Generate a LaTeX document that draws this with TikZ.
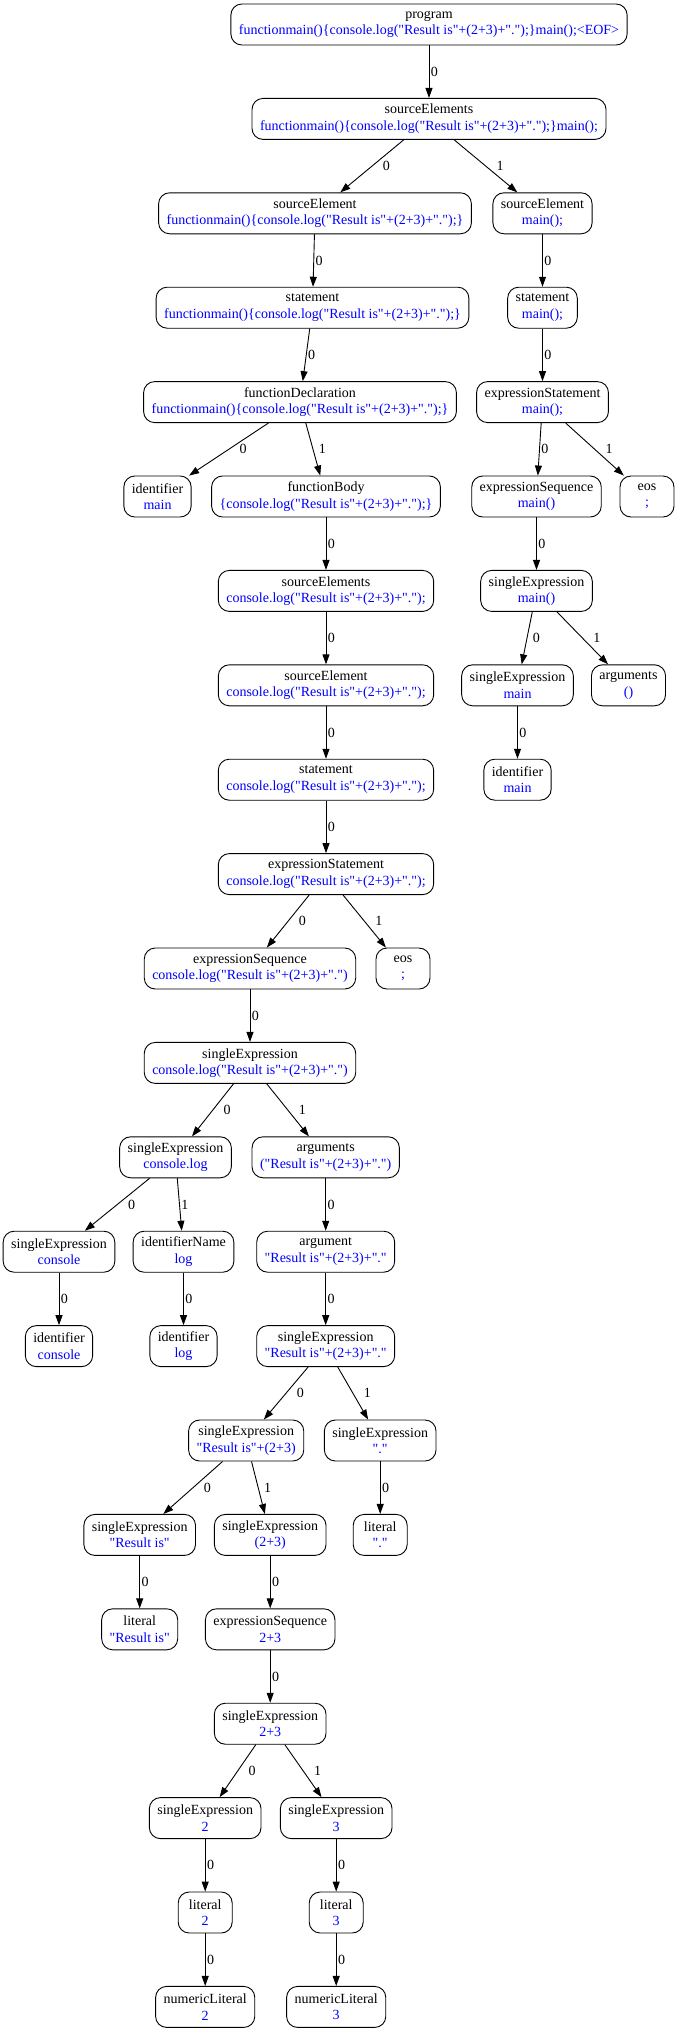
\documentclass[tikz,border=0pt]{standalone}
\usepackage{fontspec}
\setmainfont{Liberation Serif}[Ligatures=TeXOff]
\usepackage{xcolor}
\usetikzlibrary{arrows.meta}
\newcommand{\srctext}[1]{\textcolor{blue}{#1}}

\begin{document}
\begin{tikzpicture}[->,>={Triangle[length=10pt,width=7pt]},x=1pt,y=1pt,node distance=94.4pt,line width=0.9pt]
            \tikzset{tnode/.style={draw, rounded corners=11pt, align=center, minimum width=54pt, minimum height=41pt, inner xsep=8pt, inner ysep=2pt, font=\fontsize{14}{16.5}\selectfont},
                     lbl/.style={anchor=west, inner sep=1.5pt, font=\fontsize{14}{16}\selectfont},
                     lblmid/.style={lbl, xshift=4pt},
                     lblfar/.style={lbl, xshift=9pt}}
            \useasboundingbox (0,0) rectangle (677,-2032);
            % main spine
            \node[tnode] (prog) at (429,-24.5) {program\\\srctext{functionmain()\{console.log("Result is"+(2+3)+".");\}main();<EOF>}};
            \node[tnode] (se) [below of=prog] {sourceElements\\\srctext{functionmain()\{console.log("Result is"+(2+3)+".");\}main();}};
            \node[tnode] (sel) [below of=se, xshift=-114pt] {sourceElement\\\srctext{functionmain()\{console.log("Result is"+(2+3)+".");\}}};
            \node[tnode] (stl) [below of=sel, xshift=-2.5pt] {statement\\\srctext{functionmain()\{console.log("Result is"+(2+3)+".");\}}};
            \node[tnode] (fd) [below of=stl, xshift=-12.5pt] {functionDeclaration\\\srctext{functionmain()\{console.log("Result is"+(2+3)+".");\}}};
            \node[tnode] (idm) [below of=fd, xshift=-142.5pt] {identifier\\\srctext{main}};
            \node[tnode] (fb) [below of=fd, xshift=26pt] {functionBody\\\srctext{\{console.log("Result is"+(2+3)+".");\}}};
            \node[tnode] (ses2) [below of=fb] {sourceElements\\\srctext{console.log("Result is"+(2+3)+".");}};
            \node[tnode] (sel2) [below of=ses2] {sourceElement\\\srctext{console.log("Result is"+(2+3)+".");}};
            \node[tnode] (st2) [below of=sel2] {statement\\\srctext{console.log("Result is"+(2+3)+".");}};
            \node[tnode] (es2) [below of=st2] {expressionStatement\\\srctext{console.log("Result is"+(2+3)+".");}};
            \node[tnode] (esq2) [below of=es2, xshift=-76pt] {expressionSequence\\\srctext{console.log("Result is"+(2+3)+".")}};
            \node[tnode] (eos2) [below of=es2, xshift=77pt] {eos\\\srctext{;}};
            \node[tnode] (sx1) [below of=esq2] {singleExpression\\\srctext{console.log("Result is"+(2+3)+".")}};
            \node[tnode] (sxcl) [below of=sx1, xshift=-74.5pt] {singleExpression\\\srctext{console.log}};
            \node[tnode] (args2) [below of=sx1, xshift=75.7pt] {arguments\\\srctext{("Result is"+(2+3)+".")}};
            \node[tnode] (sxcon) [below of=sxcl, xshift=-116.5pt] {singleExpression\\\srctext{console}};
            \node[tnode] (idn) [below of=sxcl, xshift=8pt] {identifierName\\\srctext{log}};
            \node[tnode] (idcon) [below of=sxcon] {identifier\\\srctext{console}};
            \node[tnode] (idlog) [below of=idn] {identifier\\\srctext{log}};
            \node[tnode] (arg) [below of=args2] {argument\\\srctext{"Result is"+(2+3)+"."}};
            \node[tnode] (sx2) [below of=arg] {singleExpression\\\srctext{"Result is"+(2+3)+"."}};
            \node[tnode] (sx3) [below of=sx2, xshift=-79.5pt] {singleExpression\\\srctext{"Result is"+(2+3)}};
            \node[tnode] (sxdot) [below of=sx2, xshift=54.5pt] {singleExpression\\\srctext{"."}};
            \node[tnode] (litdot) [below of=sxdot] {literal\\\srctext{"."}};
            \node[tnode] (sxres) [below of=sx3, xshift=-106.5pt] {singleExpression\\\srctext{"Result is"}};
            \node[tnode] (sxpar) [below of=sx3, xshift=24pt] {singleExpression\\\srctext{(2+3)}};
            \node[tnode] (litres) [below of=sxres] {literal\\\srctext{"Result is"}};
            \node[tnode] (esq3) [below of=sxpar] {expressionSequence\\\srctext{2+3}};
            \node[tnode] (sx23) [below of=esq3] {singleExpression\\\srctext{2+3}};
            \node[tnode] (sx2n) [below of=sx23, xshift=-65pt] {singleExpression\\\srctext{2}};
            \node[tnode] (sx3n) [below of=sx23, xshift=66pt] {singleExpression\\\srctext{3}};
            \node[tnode] (lit2) [below of=sx2n] {literal\\\srctext{2}};
            \node[tnode] (lit3) [below of=sx3n] {literal\\\srctext{3}};
            \node[tnode] (num2) [below of=lit2] {numericLiteral\\\srctext{2}};
            \node[tnode] (num3) [below of=lit3] {numericLiteral\\\srctext{3}};
            % right branch: main();
            \node[tnode] (ser) [below of=se, xshift=113.5pt] {sourceElement\\\srctext{main();}};
            \node[tnode] (str) [below of=ser] {statement\\\srctext{main();}};
            \node[tnode] (esr) [below of=str] {expressionStatement\\\srctext{main();}};
            \node[tnode] (esqr) [below of=esr, xshift=-6pt] {expressionSequence\\\srctext{main()}};
            \node[tnode] (eosr) [below of=esr, xshift=104.5pt] {eos\\\srctext{;}};
            \node[tnode] (sxr) [below of=esqr] {singleExpression\\\srctext{main()}};
            \node[tnode] (sxm) [below of=sxr, xshift=-19pt] {singleExpression\\\srctext{main}};
            \node[tnode] (argr) [below of=sxr, xshift=92pt] {arguments\\\srctext{()}};
            \node[tnode] (idr) [below of=sxm] {identifier\\\srctext{main}};
            % edges
            \path (prog) edge node[lbl] {0} (se);
            \path (se) edge node[lblfar] {0} (sel);
            \path (se) edge node[lblfar] {1} (ser);
            \path (sel) edge node[lbl] {0} (stl);
            \path (stl) edge node[lbl] {0} (fd);
            \path (fd) edge node[lblfar] {0} (idm);
            \path (fd) edge node[lblmid] {1} (fb);
            \path (fb) edge node[lbl] {0} (ses2);
            \path (ses2) edge node[lbl] {0} (sel2);
            \path (sel2) edge node[lbl] {0} (st2);
            \path (st2) edge node[lbl] {0} (es2);
            \path (es2) edge node[lblfar] {0} (esq2);
            \path (es2) edge node[lblfar] {1} (eos2);
            \path (esq2) edge node[lbl] {0} (sx1);
            \path (sx1) edge node[lblfar] {0} (sxcl);
            \path (sx1) edge node[lblfar] {1} (args2);
            \path (sxcl) edge node[lblfar] {0} (sxcon);
            \path (sxcl) edge node[lbl] {1} (idn);
            \path (sxcon) edge node[lbl] {0} (idcon);
            \path (idn) edge node[lbl] {0} (idlog);
            \path (args2) edge node[lbl] {0} (arg);
            \path (arg) edge node[lbl] {0} (sx2);
            \path (sx2) edge node[lblfar] {0} (sx3);
            \path (sx2) edge node[lblfar] {1} (sxdot);
            \path (sxdot) edge node[lbl] {0} (litdot);
            \path (sx3) edge node[lblfar] {0} (sxres);
            \path (sx3) edge node[lblmid] {1} (sxpar);
            \path (sxres) edge node[lbl] {0} (litres);
            \path (sxpar) edge node[lbl] {0} (esq3);
            \path (esq3) edge node[lbl] {0} (sx23);
            \path (sx23) edge node[lblfar] {0} (sx2n);
            \path (sx23) edge node[lblfar] {1} (sx3n);
            \path (sx2n) edge node[lbl] {0} (lit2);
            \path (sx3n) edge node[lbl] {0} (lit3);
            \path (lit2) edge node[lbl] {0} (num2);
            \path (lit3) edge node[lbl] {0} (num3);
            \path (ser) edge node[lbl] {0} (str);
            \path (str) edge node[lbl] {0} (esr);
            \path (esr) edge node[lbl] {0} (esqr);
            \path (esr) edge node[lblfar] {1} (eosr);
            \path (esqr) edge node[lbl] {0} (sxr);
            \path (sxr) edge node[lblmid] {0} (sxm);
            \path (sxr) edge node[lblfar] {1} (argr);
            \path (sxm) edge node[lbl] {0} (idr);
        \end{tikzpicture}
\end{document}
